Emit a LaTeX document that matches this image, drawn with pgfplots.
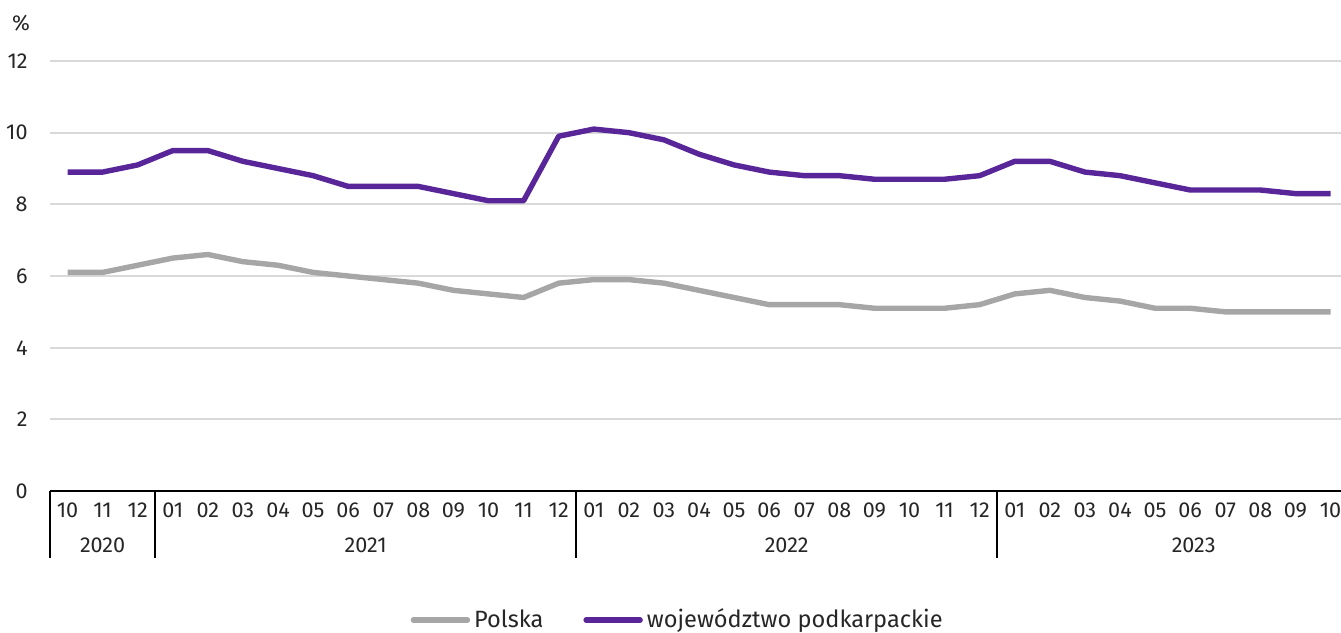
\documentclass[border=0pt]{standalone}
\usepackage{fontspec}
\setmainfont{Fira Sans}
\usepackage{pgfplots}
\pgfplotsset{compat=1.18}
\usetikzlibrary{calc}
\definecolor{purp}{RGB}{88,38,152}
\definecolor{grayline}{RGB}{166,166,166}
\definecolor{gridc}{RGB}{217,217,217}
\definecolor{txt}{RGB}{38,38,38}
\begin{document}
\begin{tikzpicture}
\begin{axis}[
  name=ax,
  scale only axis,
  width=645.5pt, height=215pt,
  xmin=-0.5, xmax=36.3,
  ymin=0, ymax=12,
  ytick={0,2,...,12},
  xtick={0,...,36},
  xticklabels={10,11,12,01,02,03,04,05,06,07,08,09,10,11,12,01,02,03,04,05,06,07,08,09,10,11,12,01,02,03,04,05,06,07,08,09,10},
  /pgf/number format/assume math mode=true,
  major tick length=0pt,
  xtick style={draw=none},
  ytick style={draw=none},
  xmajorgrids=false,
  ymajorgrids=true,
  axis line style={draw=none},
  major grid style={draw=gridc, line width=1pt},
  tick label style={font=\fontsize{10.8}{13}\selectfont, text=txt, inner sep=0pt},
  yticklabel style={anchor=east, xshift=-11pt},
  xticklabel style={anchor=center, yshift=-9.5pt},
  clip=false,
  legend style={at={(rel axis cs:0.487,-0.30)}, anchor=center, draw=none,
    legend columns=2, font=\fontsize{11.8}{14}\selectfont, text=txt,
    nodes={inner xsep=2pt},
    /tikz/every even column/.append style={column sep=18pt}},
  legend image code/.code={\draw[#1, line cap=round] (0pt,0pt) -- (27pt,0pt);},
]
\addplot[grayline, line width=2.7pt, line join=round] coordinates {
(0,6.1)(1,6.1)(2,6.3)(3,6.5)(4,6.6)(5,6.4)(6,6.3)(7,6.1)(8,6.0)(9,5.9)(10,5.8)(11,5.6)(12,5.5)(13,5.4)(14,5.8)
(15,5.9)(16,5.9)(17,5.8)(18,5.6)(19,5.4)(20,5.2)(21,5.2)(22,5.2)(23,5.1)(24,5.1)(25,5.1)(26,5.2)
(27,5.5)(28,5.6)(29,5.4)(30,5.3)(31,5.1)(32,5.1)(33,5.0)(34,5.0)(35,5.0)(36,5.0)};
\addlegendentry{Polska}
\addplot[purp, line width=2.7pt, line join=round] coordinates {
(0,8.9)(1,8.9)(2,9.1)(3,9.5)(4,9.5)(5,9.2)(6,9.0)(7,8.8)(8,8.5)(9,8.5)(10,8.5)(11,8.3)(12,8.1)(13,8.1)(14,9.9)
(15,10.1)(16,10.0)(17,9.8)(18,9.4)(19,9.1)(20,8.9)(21,8.8)(22,8.8)(23,8.7)(24,8.7)(25,8.7)(26,8.8)
(27,9.2)(28,9.2)(29,8.9)(30,8.8)(31,8.6)(32,8.4)(33,8.4)(34,8.4)(35,8.3)(36,8.3)};
\addlegendentry{województwo podkarpackie}
\draw[black, line width=1pt] (axis cs:-0.5,0) -- (axis cs:36.3,0);
\draw[black, line width=1pt] (axis cs:-0.5,0) -- ++(0pt,-33.5pt);
\draw[black, line width=1pt] (axis cs:2.5,0) -- ++(0pt,-33.5pt);
\draw[black, line width=1pt] (axis cs:14.5,0) -- ++(0pt,-33.5pt);
\draw[black, line width=1pt] (axis cs:26.5,0) -- ++(0pt,-33.5pt);
\node[font=\fontsize{10.8}{13}\selectfont, text=txt] at ($(axis cs:1,0)+(0pt,-27pt)$) {2020};
\node[font=\fontsize{10.8}{13}\selectfont, text=txt] at ($(axis cs:8.5,0)+(0pt,-27pt)$) {2021};
\node[font=\fontsize{10.8}{13}\selectfont, text=txt] at ($(axis cs:20.5,0)+(0pt,-27pt)$) {2022};
\node[font=\fontsize{10.8}{13}\selectfont, text=txt] at ($(axis cs:32.1,0)+(0pt,-27pt)$) {2023};
\node[font=\fontsize{10.8}{13}\selectfont, text=txt] at ($(rel axis cs:0,1)+(-14.5pt,19pt)$) {\%};
\end{axis}
\pgfresetboundingbox
\useasboundingbox ($(ax.south west)+(-25pt,-70.5pt)$) rectangle ($(ax.north east)+(0pt,30.5pt)$);
\end{tikzpicture}
\end{document}
